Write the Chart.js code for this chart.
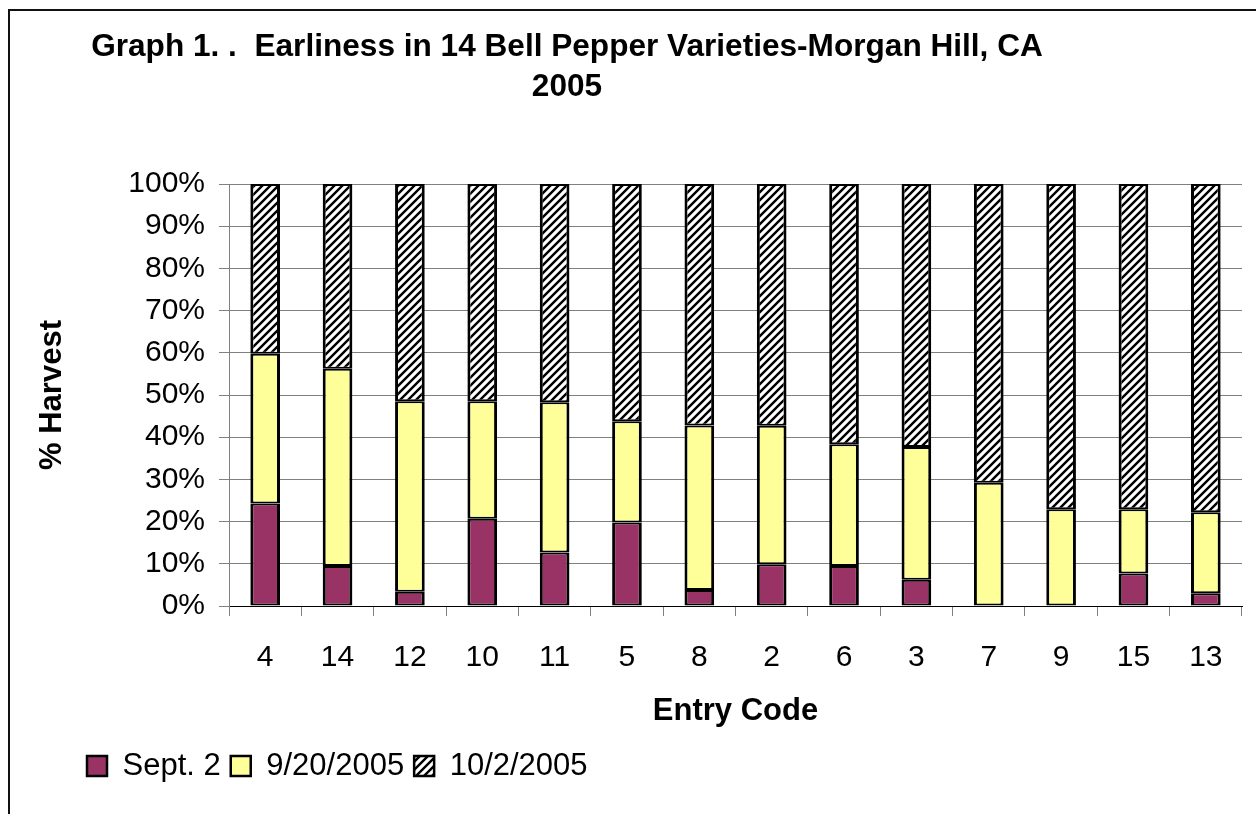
<!DOCTYPE html>
<html>
<head>
<meta charset="utf-8">
<script src="https://cdn.jsdelivr.net/npm/chart.js@4"></script>
<style>
  body { margin: 0; background: #fff; }
  #wrap { position: relative; width: 1256px; height: 814px; overflow: hidden; }
  #frame { position: absolute; left: 8px; top: 9px; width: 1400px; height: 1000px; border-left: 2px solid #111; border-top: 2px solid #111; }
  #title { position: absolute; left: 0; top: 25px; width: 1134px; text-align: center; font: bold 31.6px "Liberation Sans", Arial, sans-serif; line-height: 40px; color: #000; }
  canvas { position: absolute; left: 0; top: 0; }
</style>
</head>
<body>
<div id="wrap">
  <div id="frame"></div>
  <canvas id="chart" width="1256" height="814"></canvas>
  <div id="title">Graph 1. .&nbsp; Earliness in 14 Bell Pepper Varieties-Morgan Hill, CA<br>2005</div>
</div>
<script>
const entryCodes = ['4', '14', '12', '10', '11', '5', '8', '2', '6', '3', '7', '9', '15', '13'];
const sept2 = [24.3, 9.5, 3.4, 20.7, 12.7, 19.8, 3.8, 9.9, 9.5, 6.2, 0, 0, 7.7, 3.0];
const sept20 = [35.5, 46.7, 45.1, 27.8, 35.6, 24.0, 39.0, 32.8, 28.8, 31.5, 29.2, 22.9, 15.2, 19.2];
const oct2 = [40.2, 43.8, 51.5, 51.5, 51.7, 56.2, 57.2, 57.3, 61.7, 62.3, 70.8, 77.1, 77.1, 77.8];
const seriesNames = ['Sept. 2', '9/20/2005', '10/2/2005'];
const yTicks = [0, 10, 20, 30, 40, 50, 60, 70, 80, 90, 100];

const FONT = '"Liberation Sans", Arial, sans-serif';

// diagonal hatch like the old excel fill
function makeHatch() {
    const c = document.createElement('canvas');
    c.width = 8;
    c.height = 8;
    const g = c.getContext('2d');
    g.fillStyle = '#fff';
    g.fillRect(0, 0, 8, 8);
    g.strokeStyle = '#000';
    g.lineWidth = 2.4;
    g.beginPath();
    g.moveTo(-1, 9); g.lineTo(9, -1);
    g.moveTo(-3, 3); g.lineTo(3, -3);
    g.moveTo(5, 11); g.lineTo(11, 5);
    g.stroke();
    return g.createPattern(c, 'repeat');
}

const ctx = document.getElementById('chart').getContext('2d');
const hatch = makeHatch();

const barStyle = {
    borderColor: '#000',
    borderWidth: { left: 3, right: 3, top: 2, bottom: 2 },
    borderSkipped: false,
    barPercentage: 0.41,
    categoryPercentage: 1
};

new Chart(ctx, {
    type: 'bar',
    data: {
        labels: entryCodes,
        datasets: [
            Object.assign({ label: seriesNames[0], data: sept2, backgroundColor: '#993366' }, barStyle),
            Object.assign({ label: seriesNames[1], data: sept20, backgroundColor: '#FFFF99' }, barStyle),
            Object.assign({ label: seriesNames[2], data: oct2, backgroundColor: hatch }, barStyle)
        ]
    },
    options: {
        responsive: false,
        animation: false,
        layout: { padding: { left: 77, right: 14, top: 184, bottom: 22.5 } },
        plugins: {
            title: { display: false },
            tooltip: { enabled: false },
            legend: {
                position: 'bottom',
                align: 'start',
                labels: {
                    boxWidth: 20,
                    boxHeight: 20,
                    padding: 10,
                    color: '#000',
                    font: { family: FONT, size: 31 }
                }
            }
        },
        scales: {
            x: {
                stacked: true,
                afterFit: (scale) => { scale.height = 134.5; },
                grid: { offset: true, drawOnChartArea: false, drawTicks: true, tickLength: 10, color: '#808080' },
                border: { display: true, color: '#000', width: 1 },
                ticks: { color: '#000', padding: 24, font: { family: FONT, size: 30 } },
                title: {
                    display: true,
                    text: 'Entry Code',
                    color: '#000',
                    padding: { top: 0, bottom: 10 },
                    font: { family: FONT, size: 31, weight: 'bold' }
                }
            },
            y: {
                stacked: true,
                min: 0,
                max: 100,
                afterFit: (scale) => { scale.width = 152; },
                afterBuildTicks: (scale) => { scale.ticks = yTicks.map(v => ({ value: v })); },
                grid: { color: '#808080', drawTicks: true, tickLength: 10 },
                border: { display: true, color: '#808080', width: 1 },
                ticks: {
                    color: '#000',
                    padding: 14,
                    font: { family: FONT, size: 30 },
                    callback: (v) => v + '%'
                },
                title: {
                    display: true,
                    text: '% Harvest',
                    color: '#000',
                    padding: { top: -43.6, bottom: 0 },
                    font: { family: FONT, size: 31, weight: 'bold' }
                }
            }
        }
    }
});
</script>
</body>
</html>
